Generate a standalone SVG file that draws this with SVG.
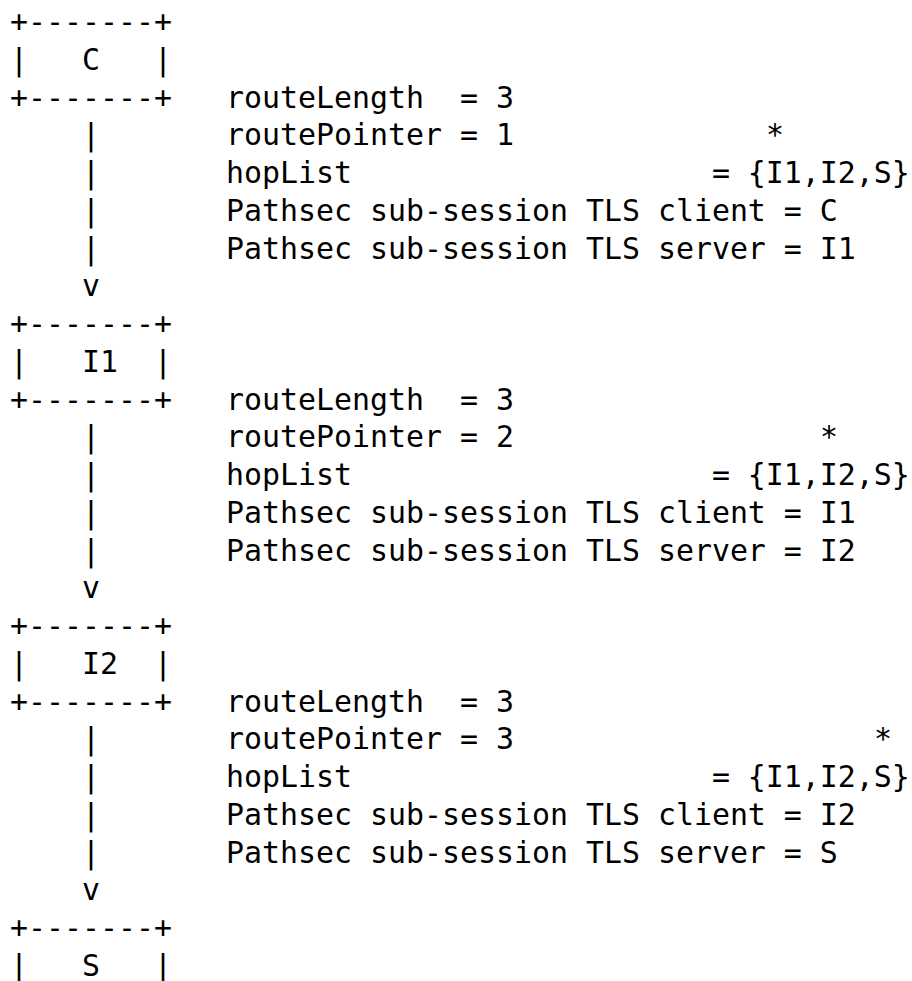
<svg xmlns="http://www.w3.org/2000/svg" width="912" height="981" viewBox="0 0 912 981">
<style>
text{font-family:"DejaVu Sans Mono","Liberation Mono",monospace;font-size:29.9px;fill:#000;white-space:pre}
</style>
<rect width="912" height="981" fill="#fff"/>
<g id="node-C" xml:space="preserve">
<text x="10" y="32">+-------+</text>
<text x="10" y="69.75">|   C   |</text>
<text x="10" y="107.5">+-------+</text>
</g>
<g id="node-I1" xml:space="preserve">
<text x="10" y="334">+-------+</text>
<text x="10" y="371.75">|   I1  |</text>
<text x="10" y="409.5">+-------+</text>
</g>
<g id="node-I2" xml:space="preserve">
<text x="10" y="636">+-------+</text>
<text x="10" y="673.75">|   I2  |</text>
<text x="10" y="711.5">+-------+</text>
</g>
<g id="node-S" xml:space="preserve">
<text x="10" y="938">+-------+</text>
<text x="10" y="975.75">|   S   |</text>
</g>
<g id="connectors">
<text x="82" y="145.25">|</text>
<text x="82" y="183">|</text>
<text x="82" y="220.75">|</text>
<text x="82" y="258.5">|</text>
<text x="82" y="296.25">v</text>
<text x="82" y="447.25">|</text>
<text x="82" y="485">|</text>
<text x="82" y="522.75">|</text>
<text x="82" y="560.5">|</text>
<text x="82" y="598.25">v</text>
<text x="82" y="749.25">|</text>
<text x="82" y="787">|</text>
<text x="82" y="824.75">|</text>
<text x="82" y="862.5">|</text>
<text x="82" y="900.25">v</text>
</g>
<g id="label-C-I1" xml:space="preserve">
<text x="226" y="107.5">routeLength  = 3</text>
<text x="226" y="145.25">routePointer = 1</text>
<text x="766" y="145.25">*</text>
<text x="226" y="183">hopList                    = {I1,I2,S}</text>
<text x="226" y="220.75">Pathsec sub-session TLS client = C</text>
<text x="226" y="258.5">Pathsec sub-session TLS server = I1</text>
</g>
<g id="label-I1-I2" xml:space="preserve">
<text x="226" y="409.5">routeLength  = 3</text>
<text x="226" y="447.25">routePointer = 2</text>
<text x="820" y="447.25">*</text>
<text x="226" y="485">hopList                    = {I1,I2,S}</text>
<text x="226" y="522.75">Pathsec sub-session TLS client = I1</text>
<text x="226" y="560.5">Pathsec sub-session TLS server = I2</text>
</g>
<g id="label-I2-S" xml:space="preserve">
<text x="226" y="711.5">routeLength  = 3</text>
<text x="226" y="749.25">routePointer = 3</text>
<text x="874" y="749.25">*</text>
<text x="226" y="787">hopList                    = {I1,I2,S}</text>
<text x="226" y="824.75">Pathsec sub-session TLS client = I2</text>
<text x="226" y="862.5">Pathsec sub-session TLS server = S</text>
</g>
</svg>
